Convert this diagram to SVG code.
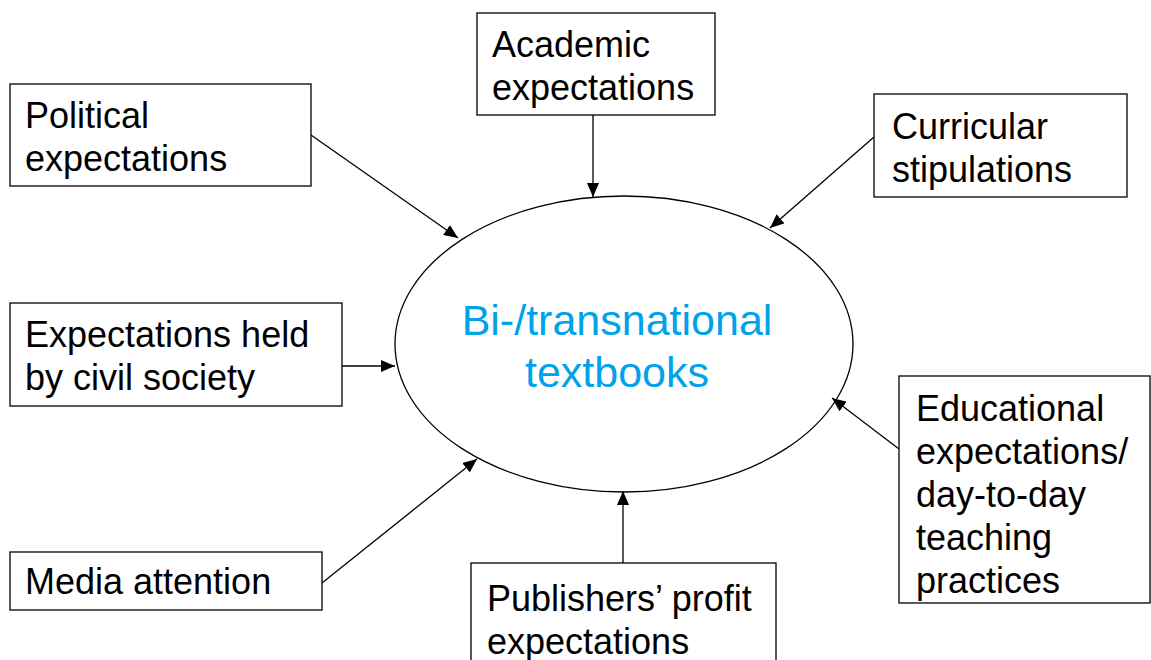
<svg xmlns="http://www.w3.org/2000/svg" width="1151" height="660" viewBox="0 0 1151 660">
<style>
.box{fill:#fff;stroke:#000;stroke-width:1.3}
.t{font-family:"Liberation Sans",Arial,sans-serif;font-size:36px;fill:#000}
.c{font-family:"Liberation Sans",Arial,sans-serif;font-size:43px;fill:#00A2E8;text-anchor:middle}
.e{stroke:#000;stroke-width:1.3;marker-end:url(#ah)}
</style>
<defs>
<marker id="ah" markerUnits="userSpaceOnUse" markerWidth="14" markerHeight="12" viewBox="0 0 14 12" refX="14" refY="6" orient="auto">
<path d="M0,0 L14,6 L0,12 z" fill="#000"/>
</marker>
</defs>
<rect width="1151" height="660" fill="#fff"/>
<g id="connectors" fill="none">
<line class="e" x1="311" y1="135" x2="458" y2="238"/>
<line class="e" x1="593" y1="115" x2="593" y2="197"/>
<line class="e" x1="874" y1="137" x2="770" y2="228"/>
<line class="e" x1="342" y1="366" x2="395" y2="366"/>
<line class="e" x1="322" y1="583" x2="477" y2="459"/>
<line class="e" x1="623" y1="563" x2="623" y2="491"/>
<line class="e" x1="899" y1="449" x2="832" y2="398"/>
</g>
<g id="center">
<ellipse cx="624" cy="344" rx="229" ry="148" fill="none" stroke="#000" stroke-width="1.3"/>
<text class="c" x="617" y="335">Bi-/transnational</text>
<text class="c" x="617" y="387">textbooks</text>
</g>
<g id="political">
<rect class="box" x="10" y="84" width="301" height="102"/>
<text class="t" x="25" y="128">Political</text>
<text class="t" x="25" y="171">expectations</text>
</g>
<g id="academic">
<rect class="box" x="477" y="13" width="238" height="102"/>
<text class="t" x="492" y="57">Academic</text>
<text class="t" x="492" y="100">expectations</text>
</g>
<g id="curricular">
<rect class="box" x="874" y="94" width="253" height="103"/>
<text class="t" x="892" y="139">Curricular</text>
<text class="t" x="892" y="182">stipulations</text>
</g>
<g id="civil">
<rect class="box" x="10" y="303" width="332" height="103"/>
<text class="t" x="25" y="347">Expectations held</text>
<text class="t" x="25" y="390">by civil society</text>
</g>
<g id="media">
<rect class="box" x="10" y="552" width="312" height="58"/>
<text class="t" x="25" y="594">Media attention</text>
</g>
<g id="publishers">
<rect class="box" x="471" y="563" width="305" height="120"/>
<text class="t" x="487" y="611">Publishers’ profit</text>
<text class="t" x="487" y="654">expectations</text>
</g>
<g id="educational">
<rect class="box" x="899" y="376" width="251" height="227"/>
<text class="t" x="916" y="421">Educational</text>
<text class="t" x="916" y="464">expectations/</text>
<text class="t" x="916" y="507">day-to-day</text>
<text class="t" x="916" y="550">teaching</text>
<text class="t" x="916" y="593">practices</text>
</g>
</svg>
